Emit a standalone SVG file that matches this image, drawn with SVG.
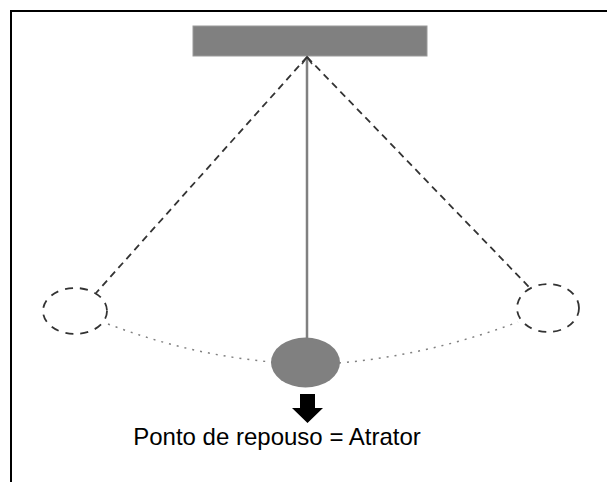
<svg xmlns="http://www.w3.org/2000/svg" width="607" height="482" viewBox="0 0 607 482">
  <style>
    .frame { fill: none; stroke: #000; stroke-width: 2; }
    .support { fill: #808080; stroke: #9a9a9a; stroke-width: 1; }
    .string { fill: none; stroke: #808080; stroke-width: 2.5; }
    .swing { fill: none; stroke: #333; stroke-width: 1.8; stroke-dasharray: 7 5; }
    .bob-ghost { fill: none; stroke: #333; stroke-width: 1.8; stroke-dasharray: 8 7; }
    .path-trace { fill: none; stroke: #808080; stroke-width: 1.5; stroke-dasharray: 2 6; }
    .bob { fill: #808080; }
    .label { font-family: "Liberation Sans", Arial, sans-serif; font-size: 24px; fill: #000; }
  </style>

  <!-- frame -->
  <path class="frame" d="M11,482 V11 H607"/>

  <!-- support bar -->
  <g id="support">
    <rect class="support" x="193" y="26" width="234" height="30"/>
  </g>

  <g id="connectors">
    <!-- string to resting bob -->
    <line class="string" x1="307" y1="58" x2="307" y2="339"/>
    <path d="M302,64 L307,57 L312,64" fill="none" stroke="#404040" stroke-width="1.6"/>
    <!-- extreme positions -->
    <line class="swing" x1="307" y1="57" x2="96" y2="293"/>
    <line class="swing" x1="307" y1="57" x2="529" y2="287"/>
    <!-- trajectory -->
    <path class="path-trace" d="M108,324 Q190,355 272,362"/>
    <path class="path-trace" d="M339,363 Q430,355 518,322"/>
  </g>

  <g id="bob-left">
    <ellipse class="bob-ghost" cx="75" cy="311" rx="32" ry="23"/>
  </g>
  <g id="bob-right">
    <ellipse class="bob-ghost" cx="548" cy="308" rx="31" ry="24"/>
  </g>
  <g id="bob-rest">
    <ellipse class="bob" cx="305.5" cy="362.5" rx="34.5" ry="25"/>
  </g>

  <g id="attractor">
    <path d="M300,394 H315 V408 H323 L307.5,423 L292,408 H300 Z" fill="#000"/>
    <text class="label" x="277" y="445" text-anchor="middle">Ponto de repouso = Atrator</text>
  </g>
</svg>
